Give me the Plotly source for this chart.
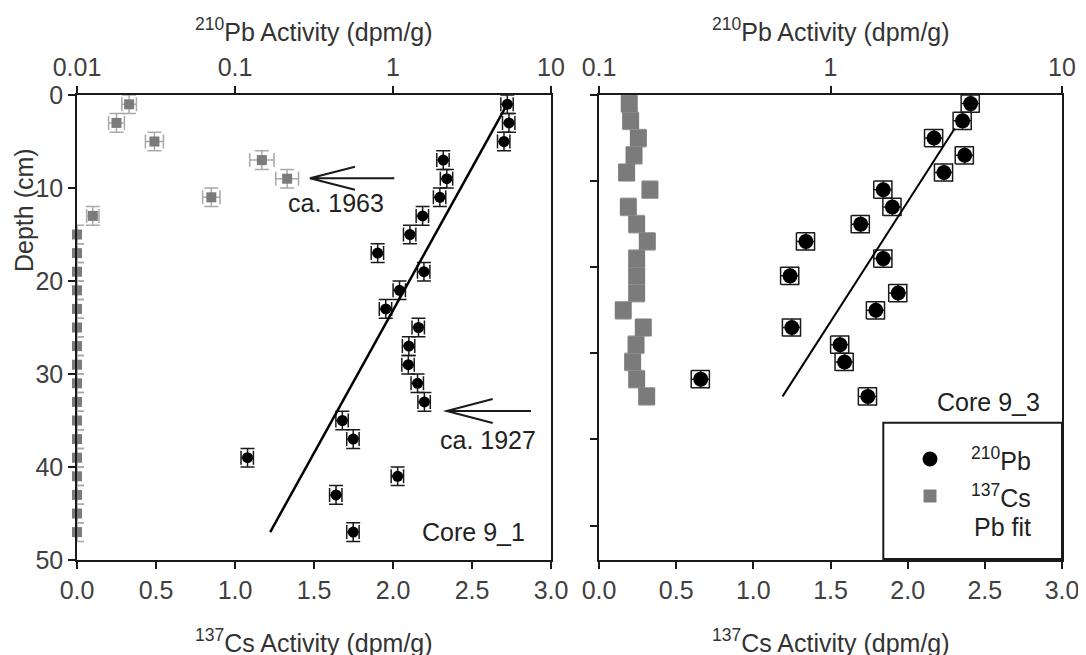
import plotly.graph_objects as go

# The page body has an 8px margin, so the figure is drawn 8px smaller and all
# layout positions below are given in window pixels and converted.
OFF = 8
W, H = 1086 - OFF, 655 - OFF
FONT = "Liberation Sans, Arial, sans-serif"

# ---------------- Core 9_1 (left panel) ----------------
core91_cs_depth = [1, 3, 5, 7, 9, 11, 13, 15, 17, 19, 21, 23, 25, 27, 29, 31, 33,
                   35, 37, 39, 41, 43, 45, 47]
core91_cs = [0.33, 0.25, 0.49, 1.17, 1.33, 0.85, 0.10, 0, 0, 0, 0, 0, 0, 0, 0, 0, 0,
             0, 0, 0, 0, 0, 0, 0]
core91_cs_err = [0.046, 0.05, 0.057, 0.077, 0.072, 0.055, 0.039, 0, 0, 0, 0, 0, 0, 0,
                 0, 0, 0, 0, 0, 0, 0, 0, 0, 0]
core91_pb_depth = [1, 3, 5, 7, 9, 11, 13, 15, 17, 19, 21, 23, 25, 27, 29, 31, 33, 35,
                   37, 39, 41, 43, 47]
core91_pb = [5.29, 5.42, 5.04, 2.08, 2.19, 1.98, 1.54, 1.28, 0.80, 1.57, 1.10, 0.90,
             1.45, 1.26, 1.25, 1.43, 1.58, 0.478, 0.56, 0.12, 1.07, 0.436, 0.56]
core91_fit_depth = [1.2, 47.0]
core91_fit_pb = [5.2, 0.167]

# ---------------- Core 9_3 (right panel) ----------------
core93_depth = [1, 3, 5, 7, 9, 11, 13, 15, 17, 19, 21, 23, 25, 27, 29, 31, 33, 35]
core93_pb = [4.03, 3.72, 2.80, 3.80, 3.09, 1.69, 1.85, 1.35, 0.783, 1.69, 0.669, 1.96,
             1.57, 0.681, 1.10, 1.15, 0.275, 1.45]
core93_cs = [0.196, 0.205, 0.255, 0.227, 0.179, 0.330, 0.190, 0.244, 0.313, 0.244,
             0.244, 0.244, 0.157, 0.287, 0.240, 0.218, 0.244, 0.309]
core93_fit_depth = [3.9, 35.0]
core93_fit_pb = [3.44, 0.621]

# ---------------- axis ticks ----------------
cs_ticks = [0, 0.5, 1.0, 1.5, 2.0, 2.5, 3.0]
cs_ticktext = ["0.0", "0.5", "1.0", "1.5", "2.0", "2.5", "3.0"]
pb_ticks_left = [0.01, 0.1, 1, 10]
pb_ticktext_left = ["0.01", "0.1", "1", "10"]
pb_ticks_right = [0.1, 1, 10]
pb_ticktext_right = ["0.1", "1", "10"]
depth_ticks_left = [0, 10, 20, 30, 40, 50]
depth_ticks_right = [0, 10, 20, 30, 40, 50]

CS_COLOR = "#7b7b7b"
CS_ERR = "#a9a9a9"
INK = "#1a1a1a"


def PX(x):
    return (x - OFF) / W


def PY(y):
    return 1 - (y - OFF) / H


fig = go.Figure()

# left panel
fig.add_trace(go.Scatter(
    x=core91_cs, y=core91_cs_depth, xaxis="x", yaxis="y", mode="markers",
    marker=dict(symbol="square", size=10, color=CS_COLOR),
    error_x=dict(type="data", array=core91_cs_err, color=CS_ERR, thickness=1.5, width=7),
    error_y=dict(type="constant", value=1, color=CS_ERR, thickness=1.5, width=7),
    showlegend=False, cliponaxis=False))
fig.add_trace(go.Scatter(
    x=core91_pb, y=core91_pb_depth, xaxis="x3", yaxis="y", mode="markers",
    marker=dict(symbol="circle", size=11, color="black"),
    error_x=dict(type="percent", value=9, color=INK, thickness=1.5, width=7),
    error_y=dict(type="constant", value=1, color=INK, thickness=1.5, width=7),
    showlegend=False, cliponaxis=False))
fig.add_trace(go.Scatter(
    x=core91_fit_pb, y=core91_fit_depth, xaxis="x3", yaxis="y", mode="lines",
    line=dict(color="black", width=2.5), showlegend=False))

# right panel
fig.add_trace(go.Scatter(
    x=core93_cs, y=core93_depth, xaxis="x2", yaxis="y2", mode="markers",
    marker=dict(symbol="square", size=17, color=CS_COLOR),
    error_x=dict(type="constant", value=0.03, color=CS_ERR, thickness=1.5, width=8),
    error_y=dict(type="constant", value=1, color=CS_ERR, thickness=1.5, width=8),
    showlegend=False, cliponaxis=False))
fig.add_trace(go.Scatter(
    x=core93_pb, y=core93_depth, xaxis="x4", yaxis="y2", mode="markers",
    marker=dict(symbol="circle", size=15, color="black"),
    error_x=dict(type="percent", value=9, color=INK, thickness=1.5, width=9),
    error_y=dict(type="constant", value=1, color=INK, thickness=1.5, width=9),
    showlegend=False, cliponaxis=False))
fig.add_trace(go.Scatter(
    x=core93_fit_pb, y=core93_fit_depth, xaxis="x4", yaxis="y2", mode="lines",
    line=dict(color="black", width=2), showlegend=False))

tickfont = dict(family=FONT, size=25, color="#404040")
common = dict(showline=True, linecolor=INK, linewidth=1.5, ticks="outside", ticklen=7,
              tickwidth=1.5, tickcolor=INK, showgrid=False, zeroline=False,
              tickfont=tickfont, automargin=False)

L0, L1 = PX(77), PX(551)
R0, R1 = PX(599), PX(1062)
YD = [PY(560), PY(95)]

fig.update_layout(
    template="none",
    width=W, height=H, margin=dict(l=0, r=0, t=0, b=0, pad=0, autoexpand=False),
    paper_bgcolor="white", plot_bgcolor="white", showlegend=False,
    font=dict(family=FONT, size=25, color="#222222"),
    xaxis=dict(domain=[L0, L1], range=[0, 3], anchor="y", side="bottom",
               tickvals=cs_ticks, ticktext=cs_ticktext, **common),
    xaxis3=dict(overlaying="x", side="top", type="log", range=[-2, 1], anchor="y",
                tickvals=pb_ticks_left, ticktext=pb_ticktext_left, **common),
    yaxis=dict(domain=YD, range=[50, 0], anchor="x", tickvals=depth_ticks_left,
               mirror=True, **common),
    xaxis2=dict(domain=[R0, R1], range=[0, 3], anchor="y2", side="bottom",
                tickvals=cs_ticks, ticktext=cs_ticktext, **common),
    xaxis4=dict(overlaying="x2", side="top", type="log", range=[-1, 1], anchor="y2",
                tickvals=pb_ticks_right, ticktext=pb_ticktext_right, **common),
    yaxis2=dict(domain=YD, range=[54, 0], anchor="x2", tickvals=depth_ticks_right,
                showticklabels=False, mirror=True, **common),
)

shapes = []
# arrows (open chevron heads)
for tip_x, tail_x, arm_x, yy, half in [(310, 394.3, 355, 178.3, 11.5),
                                        (446.7, 531, 492.7, 411, 12)]:
    path = (f"M {PX(tail_x)},{PY(yy)} L {PX(tip_x)},{PY(yy)} "
            f"M {PX(arm_x)},{PY(yy - half)} L {PX(tip_x)},{PY(yy)} L {PX(arm_x)},{PY(yy + half)}")
    shapes.append(dict(type="path", xref="paper", yref="paper", path=path,
                       line=dict(color=INK, width=2)))
# legend box
shapes.append(dict(type="rect", xref="paper", yref="paper", x0=PX(883.3), x1=PX(1062),
                   y0=PY(559), y1=PY(422.7), line=dict(color=INK, width=2),
                   fillcolor="white", layer="above"))
shapes.append(dict(type="circle", xref="paper", yref="paper", x0=PX(922.5), x1=PX(937.5),
                   y0=PY(466.5), y1=PY(451.5), line=dict(width=0), fillcolor="black"))
shapes.append(dict(type="rect", xref="paper", yref="paper", x0=PX(923.5), x1=PX(936.5),
                   y0=PY(502.5), y1=PY(489.5), line=dict(width=0), fillcolor=CS_COLOR))
fig.update_layout(shapes=shapes)

ann_font = dict(family=FONT, size=25, color="#222222")
title_font = dict(family=FONT, size=25, color="#333333")


def ann(text, x, y, xanchor="center", yanchor="middle", font=ann_font, angle=0):
    return dict(text=text, x=PX(x), y=PY(y), xref="paper", yref="paper",
                xanchor=xanchor, yanchor=yanchor, showarrow=False, font=font,
                textangle=angle)


annotations = [
    ann("ca. 1963", 336, 203),
    ann("ca. 1927", 488, 440),
    ann("Core 9_1", 527, 532, xanchor="right"),
    ann("Core 9_3", 1042, 402, xanchor="right"),
    ann("<sup>210</sup>Pb", 1033, 459, xanchor="right"),
    ann("<sup>137</sup>Cs", 1033, 496, xanchor="right"),
    ann("Pb fit", 1033, 527, xanchor="right"),
    ann("<sup>210</sup>Pb Activity (dpm/g)", 314, 30, font=title_font),
    ann("<sup>210</sup>Pb Activity (dpm/g)", 830.5, 30, font=title_font),
    ann("<sup>137</sup>Cs Activity (dpm/g)", 314, 641, font=title_font),
    ann("<sup>137</sup>Cs Activity (dpm/g)", 830.5, 641, font=title_font),
    ann("Depth (cm)", 24, 210, font=title_font, angle=-90),
]
fig.update_layout(annotations=annotations)

fig.write_html("out.html")
